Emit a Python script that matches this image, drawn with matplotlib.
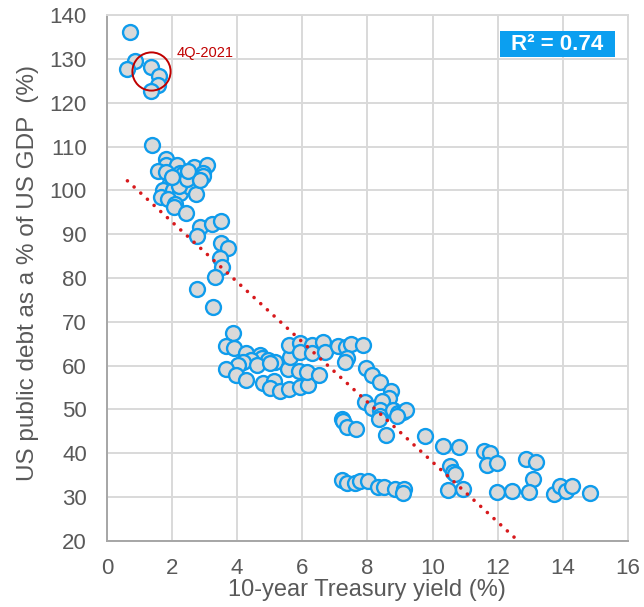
import numpy as np
import matplotlib
matplotlib.use("Agg")
import matplotlib.pyplot as plt
from matplotlib.patches import Rectangle

plt.rcParams['font.family'] = ['Liberation Sans', 'DejaVu Sans']

# 10-year Treasury yield (%) and US public debt (% of GDP)
yield_pct = [
    0.71, 0.86, 0.63, 1.34, 1.61, 1.56, 1.34,
    1.39, 1.81, 1.83, 2.14, 2.67, 3.06, 1.58, 1.81, 2.24, 2.34, 2.94, 2.96,
    1.93, 2.29, 2.60, 1.73, 2.02, 2.24, 2.55, 2.73, 1.66, 1.88, 2.09, 2.06,
    2.20, 2.45, 2.85, 2.00, 2.50,
    2.43, 2.86, 3.24, 3.49, 2.77, 3.50, 3.73, 3.47, 3.54, 3.32, 2.76, 3.27, 3.88,
    3.67, 3.90, 4.27, 4.70, 4.75, 4.95, 5.16, 4.44, 4.19, 4.03, 3.65, 3.96, 4.27,
    4.60, 5.01, 4.80, 5.13, 5.01, 5.31, 5.60, 5.93, 6.18, 5.57, 5.91, 6.16, 6.52,
    5.62, 5.59, 5.93, 5.93, 6.29, 6.29, 6.64, 6.70, 7.10, 7.34, 7.51, 7.87, 7.36,
    7.31, 7.95, 8.13, 8.38, 8.71, 8.67, 7.92, 8.13, 8.44, 8.38, 8.38, 8.36, 8.79,
    8.95, 9.10, 9.20, 8.90, 8.57, 7.23, 7.26, 7.36, 7.64,
    7.21, 7.36, 7.62, 7.77, 8.03, 8.33, 8.51, 8.85, 9.12, 9.10,
    9.77, 10.33, 10.81, 11.58, 11.76, 11.68, 11.97, 10.53, 10.64, 10.69, 10.48,
    10.94, 11.99, 12.43, 12.87, 13.19, 13.09, 12.97, 13.73, 13.93, 14.10, 14.29, 14.85,
]
debt_pct = [
    136.2, 129.5, 127.6, 128.1, 126.1, 124.0, 122.7,
    110.3, 107.1, 105.8, 105.8, 105.3, 105.9, 104.4, 104.3, 103.9, 103.7, 104.0, 103.3,
    101.6, 102.0, 101.6, 100.2, 100.2, 99.5, 100.7, 99.2, 98.4, 98.0, 97.0, 96.3,
    101.0, 102.5, 102.3, 103.0, 104.5,
    94.8, 91.7, 92.3, 93.1, 89.6, 88.1, 86.8, 84.5, 82.6, 80.3, 77.4, 73.4, 67.4,
    64.5, 64.0, 62.8, 62.4, 61.7, 61.3, 60.9, 61.3, 60.9, 60.1, 59.2, 57.9, 56.7,
    60.1, 60.5, 56.0, 56.5, 54.8, 54.3, 54.6, 55.1, 55.6, 59.2, 58.8, 58.6, 57.9,
    61.9, 64.7, 65.2, 63.2, 64.7, 62.8, 65.5, 63.2, 64.5, 64.3, 65.0, 64.7, 61.7,
    60.9, 59.4, 57.9, 56.3, 54.1, 52.5, 51.8, 50.3, 52.0, 49.9, 48.4, 47.8, 49.9,
    49.1, 49.5, 49.9, 48.4, 44.2, 47.8, 47.3, 46.1, 45.5,
    33.9, 33.3, 33.3, 33.7, 33.7, 32.4, 32.4, 31.8, 31.8, 31.0,
    43.9, 41.7, 41.5, 40.6, 40.1, 37.3, 37.7, 37.1, 35.8, 35.3, 31.5,
    31.9, 31.2, 31.3, 38.7, 37.9, 34.1, 31.1, 30.7, 32.6, 31.3, 32.6, 30.9,
]

# latest observation (4Q-2021)
latest = (1.34, 127.2)

# linear trend as shown on the chart
trend_slope = -6.85
trend_intercept = 106.5
r2_text = "R² = 0.74"

grid_c = '#d9d9d9'
text_c = '#595959'

fig = plt.figure(figsize=(6.44, 6.07), dpi=100)
ax = fig.add_axes([0.166, 0.109, 0.809, 0.866])

ax.scatter(yield_pct, debt_pct, s=115, facecolor='#d9d9d9',
           edgecolor='#0f9cec', linewidth=1.7, zorder=3)

xt = np.linspace(min(yield_pct), max(yield_pct), 100)
ax.plot(xt, trend_slope * xt + trend_intercept, linestyle=(0, (0.01, 2.5)),
        color='#d7191c', linewidth=2.6, dash_capstyle='round', zorder=4)

ax.plot(*latest, marker='o', markersize=27.5, markerfacecolor='none',
        markeredgecolor='#c00000', markeredgewidth=1.4, zorder=5)
ax.text(2.15, 131.4, "4Q-2021", color='#c00000', fontsize=10.5,
        va='center', ha='left', zorder=5)

# R² badge
ax.add_patch(Rectangle((0.754, 0.920), 0.221, 0.050, transform=ax.transAxes,
                       facecolor='#0b9ff0', edgecolor='none', zorder=6))
ax.text(0.864, 0.945, r2_text, transform=ax.transAxes, ha='center', va='center',
        color='white', fontsize=16, fontweight='bold', zorder=7)

ax.set_xlim(0, 16)
ax.set_ylim(20, 140)
ax.set_xticks(np.arange(0, 17, 2))
ax.set_yticks(np.arange(20, 141, 10))
ax.grid(True, color=grid_c, linewidth=1.4, zorder=0)
ax.set_axisbelow(True)
ax.tick_params(length=0, labelsize=16, labelcolor=text_c)
ax.tick_params(axis='x', pad=12.6)
ax.tick_params(axis='y', pad=14.4)

for side in ['top', 'right']:
    ax.spines[side].set_color(grid_c)
    ax.spines[side].set_linewidth(1.4)
for side in ['left', 'bottom']:
    ax.spines[side].set_color('#a6a6a6')
    ax.spines[side].set_linewidth(1.4)

ax.set_xlabel("10-year Treasury yield (%)", fontsize=17, color=text_c, labelpad=0)
ax.set_ylabel("US public debt as a % of US GDP  (%)", fontsize=17.5, color=text_c)
ax.yaxis.set_label_coords(-0.1296, 0.51)

fig.savefig("out.png", dpi=100)
